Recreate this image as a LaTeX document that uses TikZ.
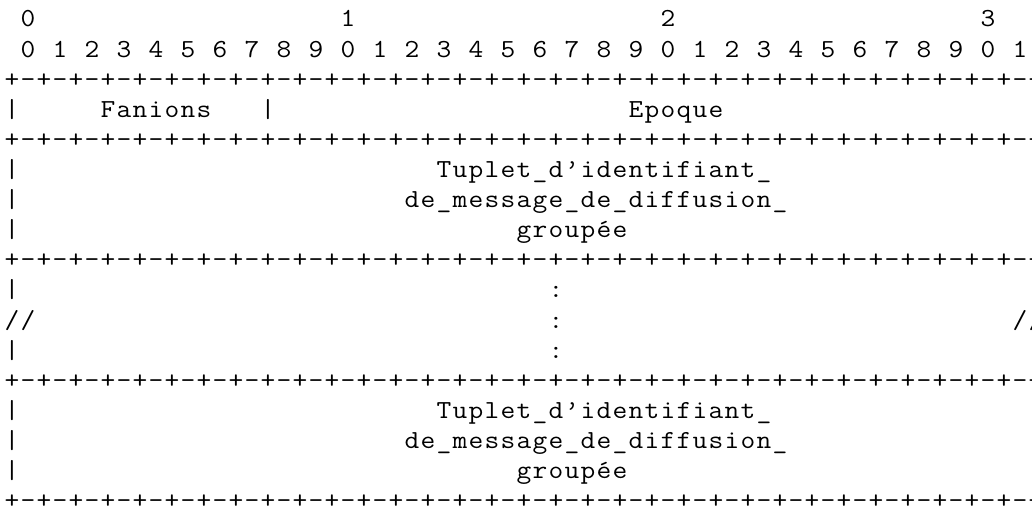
\documentclass[tikz,border=0pt]{standalone}
\usepackage{fontspec}
\usepackage{graphicx}
% one fixed-width cell per character
\makeatletter
\newcommand\cellsize{16pt}
\newcommand\onecell[1]{\makebox[\cellsize]{\scalebox{1.1}[1]{#1}}}
\newcommand\cells[1]{\@tfor\cc:=#1\do{\onecell{\cc}}}
\makeatother
\newcommand\asciifont{\ttfamily\fontsize{26}{30}\selectfont}
\begin{document}
\begin{tikzpicture}[x=1pt,y=-1pt,
  ascii/.style={font=\asciifont, inner sep=0pt, outer sep=0pt, anchor=base west}]
% page frame
\fill[white] (0,0) rectangle (1032,508);
\useasboundingbox (0,0) rectangle (1032,508);
% one character cell is 16 wide, one text line is 30.1 high
\newcommand\cell[4]{\node[ascii] (#1) at ({4+16*#3},{27+30.1*#2}) {\cells{#4}};}
\newcommand\border[2]{\node[ascii] (#1) at (4,{27+30.1*#2})
  {\foreach \k in {1,...,32}{\onecell{+}\onecell{-}}\onecell{+}};}

% bit ruler
\cell{t0}{0}{1}{0}
\cell{t1}{0}{21}{1}
\cell{t2}{0}{41}{2}
\cell{t3}{0}{61}{3}
\foreach \i in {0,...,31}{
  \pgfmathtruncatemacro\d{mod(\i,10)}
  \node[ascii] (b\i) at ({4+16*(2*\i+1)},{27+30.1*1}) {\onecell{\d}};
}

% field rows
\border{h0}{2}
\cell{v30}{3}{0}{|}
\cell{fan}{3}{6}{Fanions}
\cell{v31}{3}{16}{|}
\cell{epo}{3}{39}{Epoque}
\border{h1}{4}

\cell{v5}{5}{0}{|}
\cell{ta}{5}{27}{Tuplet\_d’identifiant\_}
\cell{v6}{6}{0}{|}
\cell{tb}{6}{25}{de\_message\_de\_diffusion\_}
\cell{v7}{7}{0}{|}
\cell{tc}{7}{32}{groupée}
\border{h2}{8}

\cell{v9}{9}{0}{|}
\cell{c9}{9}{34}{:}
\cell{s10}{10}{0}{//}
\cell{c10}{10}{34}{:}
\cell{e10}{10}{63}{//}
\cell{v11}{11}{0}{|}
\cell{c11}{11}{34}{:}
\border{h3}{12}

\cell{v13}{13}{0}{|}
\cell{ua}{13}{27}{Tuplet\_d’identifiant\_}
\cell{v14}{14}{0}{|}
\cell{ub}{14}{25}{de\_message\_de\_diffusion\_}
\cell{v15}{15}{0}{|}
\cell{uc}{15}{32}{groupée}
\border{h4}{16}
\end{tikzpicture}
\end{document}
